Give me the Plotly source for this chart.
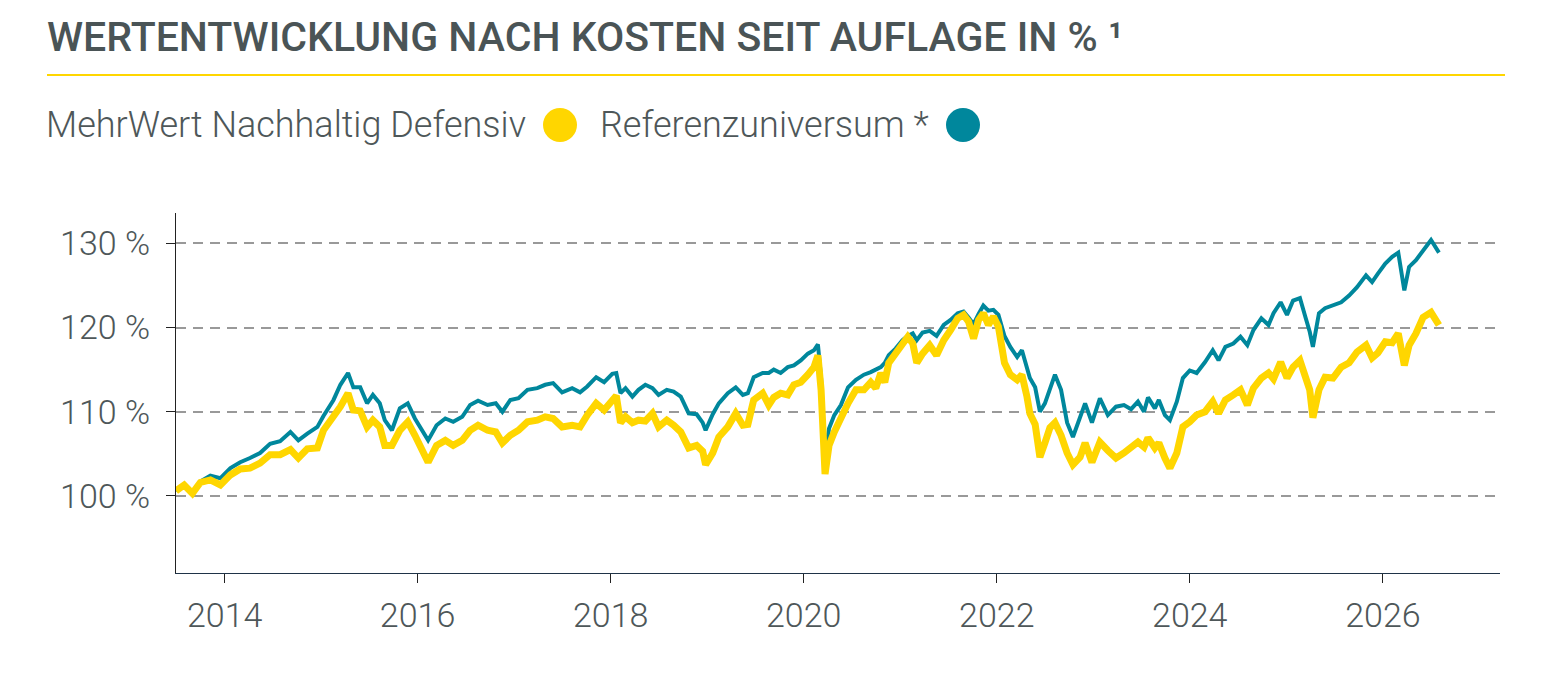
import plotly.graph_objects as go

# Daten (Wertentwicklung in %)
datum = [
    "2013-07-01", "2013-08-01", "2013-09-01", "2013-10-01", "2013-11-08", "2013-12-16",
    "2014-01-23", "2014-03-01", "2014-04-07", "2014-05-15", "2014-06-22", "2014-07-30", "2014-09-07", "2014-10-07", "2014-11-10", "2014-12-18",
    "2015-01-10", "2015-02-17", "2015-03-15", "2015-04-13", "2015-05-03", "2015-05-29", "2015-06-24", "2015-07-16", "2015-08-11", "2015-08-30", "2015-09-26", "2015-10-26", "2015-11-25", "2015-12-22",
    "2016-01-18", "2016-02-10", "2016-03-13", "2016-04-15", "2016-05-15", "2016-06-18", "2016-07-18", "2016-08-17", "2016-09-22", "2016-10-23", "2016-11-17", "2016-12-17",
    "2017-01-17", "2017-02-20", "2017-03-29", "2017-04-28", "2017-05-28", "2017-07-01", "2017-08-08", "2017-09-07", "2017-10-04", "2017-11-07", "2017-12-07",
    "2018-01-07", "2018-01-22", "2018-02-07", "2018-02-26", "2018-03-24", "2018-04-16", "2018-05-12", "2018-06-08", "2018-07-01", "2018-08-01", "2018-08-27", "2018-09-23", "2018-10-23", "2018-11-22", "2018-12-15", "2018-12-26",
    "2019-01-22", "2019-02-14", "2019-03-20", "2019-04-19", "2019-05-16", "2019-06-04", "2019-06-26", "2019-07-30", "2019-08-22", "2019-09-10", "2019-10-06", "2019-11-02", "2019-11-25", "2019-12-21",
    "2020-01-17", "2020-02-09", "2020-02-24", "2020-03-07", "2020-03-22", "2020-04-06", "2020-04-26", "2020-05-21", "2020-06-17", "2020-07-17", "2020-08-16", "2020-09-11", "2020-09-30", "2020-10-19", "2020-11-03", "2020-11-18", "2020-12-14",
    "2021-01-09", "2021-01-29", "2021-02-17", "2021-03-04", "2021-03-26", "2021-04-22", "2021-05-18", "2021-06-14", "2021-07-10", "2021-08-06", "2021-08-28", "2021-09-16", "2021-10-05", "2021-10-24", "2021-11-11", "2021-11-30", "2021-12-19",
    "2022-01-07", "2022-01-30", "2022-02-21", "2022-03-19", "2022-04-06", "2022-04-25", "2022-05-06", "2022-05-26", "2022-06-13", "2022-07-02", "2022-07-21", "2022-08-09", "2022-09-01", "2022-09-24", "2022-10-16", "2022-11-12", "2022-12-01", "2022-12-27",
    "2023-01-26", "2023-02-25", "2023-03-28", "2023-04-27", "2023-05-24", "2023-06-19", "2023-07-12", "2023-07-27", "2023-08-22", "2023-09-06", "2023-09-29", "2023-10-18", "2023-11-13", "2023-12-06",
    "2024-01-01", "2024-01-27", "2024-02-28", "2024-03-28", "2024-04-19", "2024-05-15", "2024-06-14", "2024-07-11", "2024-08-06", "2024-08-29", "2024-09-28", "2024-10-25", "2024-11-13", "2024-12-10",
    "2025-01-03", "2025-01-26", "2025-02-21", "2025-03-15", "2025-03-30", "2025-04-11", "2025-05-04", "2025-05-27", "2025-06-26", "2025-07-27", "2025-08-26", "2025-09-25", "2025-10-29", "2025-11-21", "2025-12-13",
    "2026-01-10", "2026-02-05", "2026-02-28", "2026-03-23", "2026-04-10", "2026-05-06", "2026-06-02", "2026-07-02", "2026-08-01",
]

mehrwert = [
    100.6, 101.3, 100.3, 101.6, 101.9, 101.3,
    102.5, 103.2, 103.3, 103.9, 104.9, 104.9, 105.5, 104.5, 105.6, 105.7,
    107.8, 109.4, 110.6, 112.2, 110.2, 110.1, 108.2, 109.0, 108.2, 106.0, 106.0, 107.8, 108.8, 107.2,
    105.5, 104.0, 106.0, 106.6, 106.0, 106.6, 107.8, 108.4, 107.8, 107.6, 106.3, 107.2,
    107.8, 108.8, 109.0, 109.4, 109.2, 108.2, 108.4, 108.2, 109.6, 111.0, 110.2,
    111.5, 111.9, 108.7, 109.4, 108.7, 109.0, 108.9, 109.8, 108.2, 109.0, 108.4, 107.6, 105.7, 106.0, 105.3, 103.7,
    105.1, 107.0, 108.2, 109.8, 108.4, 108.5, 111.4, 112.2, 110.8, 111.7, 112.2, 112.0, 113.2, 113.5,
    114.4, 115.3, 116.7, 112.6, 102.6, 106.0, 107.6, 109.3, 111.0, 112.6, 112.6, 113.5, 112.8, 114.6, 113.5, 115.8, 116.9,
    118.1, 118.9, 118.1, 115.8, 116.9, 117.9, 116.7, 118.5, 119.7, 121.1, 121.5, 120.7, 118.7, 120.9, 121.7, 120.3, 121.3,
    120.1, 115.8, 114.4, 113.8, 114.4, 111.8, 109.8, 108.5, 104.6, 106.3, 108.1, 108.7, 107.2, 105.1, 103.7, 104.6, 106.3, 104.0,
    106.4, 105.4, 104.5, 105.1, 105.8, 106.4, 105.8, 106.9, 105.7, 106.3, 104.5, 103.3, 105.1, 108.2,
    108.8, 109.6, 110.0, 111.2, 109.8, 111.4, 112.0, 112.6, 110.8, 112.8, 114.0, 114.6, 113.9, 115.9,
    114.0, 115.3, 116.1, 114.2, 112.6, 109.3, 112.6, 114.1, 114.0, 115.3, 115.8, 117.1, 117.9, 116.4, 117.0,
    118.3, 118.2, 119.3, 115.5, 117.9, 119.3, 121.2, 121.8, 120.3,
]

referenz = [
    100.6, 101.3, 100.4, 101.7, 102.4, 102.1,
    103.3, 104.0, 104.5, 105.1, 106.2, 106.5, 107.6, 106.6, 107.4, 108.2,
    109.5, 111.4, 113.2, 114.6, 112.9, 112.9, 111.0, 112.0, 111.0, 109.0, 107.8, 110.4, 111.0, 109.2,
    107.8, 106.6, 108.4, 109.2, 108.8, 109.4, 110.8, 111.3, 110.8, 111.0, 110.0, 111.4,
    111.6, 112.6, 112.8, 113.2, 113.4, 112.3, 112.8, 112.3, 113.0, 114.1, 113.5,
    114.5, 114.6, 112.2, 112.8, 111.8, 112.6, 113.2, 112.8, 112.0, 112.6, 112.4, 111.8, 109.8, 109.7, 108.7, 107.8,
    109.7, 111.0, 112.2, 112.9, 112.0, 112.2, 114.1, 114.6, 114.6, 115.0, 114.6, 115.3, 115.5, 116.1,
    116.9, 117.3, 118.0, 114.0, 104.5, 108.0, 109.6, 110.8, 112.9, 113.8, 114.4, 114.7, 115.0, 115.3, 115.8, 116.7, 117.5,
    118.5, 119.0, 119.3, 118.5, 119.4, 119.6, 119.0, 120.3, 120.9, 121.7, 121.9, 121.2, 120.4, 121.6, 122.6, 122.0, 122.1,
    121.5, 119.0, 117.7, 116.5, 117.3, 115.3, 114.0, 112.9, 110.0, 111.0, 112.6, 114.4, 112.6, 108.7, 107.0, 109.4, 111.0, 108.7,
    111.6, 109.6, 110.6, 110.8, 110.3, 111.2, 110.0, 111.7, 110.4, 111.4, 109.6, 109.0, 111.2, 114.0,
    114.9, 114.6, 115.9, 117.3, 116.1, 117.7, 118.1, 118.9, 117.9, 119.7, 121.1, 120.3, 121.7, 123.0,
    121.5, 123.2, 123.5, 121.1, 119.5, 117.7, 121.7, 122.3, 122.6, 123.0, 123.8, 124.8, 126.2, 125.4, 126.4,
    127.6, 128.4, 128.9, 124.4, 127.2, 128.0, 129.2, 130.4, 128.9,
]

jahre = ["2014-01-01", "2016-01-01", "2018-01-01", "2020-01-01", "2022-01-01", "2024-01-01", "2026-01-01"]
jahr_labels = ["2014", "2016", "2018", "2020", "2022", "2024", "2026"]
y_ticks = [100, 110, 120, 130]
y_labels = ["100 %", "110 %", "120 %", "130 %"]

name_fonds = "MehrWert Nachhaltig Defensiv"
name_ref = "Referenzuniversum *"
titel = "WERTENTWICKLUNG NACH KOSTEN SEIT AUFLAGE IN % ¹"

gelb = "#FFD600"
petrol = "#00879C"
textfarbe = "#4e5759"

W, H = 1560, 680
L, R, T, B = 176, 60, 213, 107


# pixel -> paper koordinaten
def px(x):
    return (x - L) / (W - L - R)


def py(y):
    return (H - B - y) / (H - T - B)


fig = go.Figure()
fig.add_trace(go.Scatter(x=datum, y=referenz, name=name_ref, mode="lines",
                         line=dict(color=petrol, width=4), hoverinfo="skip"))
fig.add_trace(go.Scatter(x=datum, y=mehrwert, name=name_fonds, mode="lines",
                         line=dict(color=gelb, width=7), hoverinfo="skip"))

tickfont = dict(family="Roboto", size=34, color=textfarbe, weight=300)

fig.update_layout(
    width=W, height=H,
    margin=dict(l=L, r=R, t=T, b=B),
    paper_bgcolor="white", plot_bgcolor="white",
    showlegend=False,
    xaxis=dict(type="date", range=["2013-07-01", "2027-03-20"],
               tickvals=jahre, ticktext=jahr_labels, tickfont=tickfont,
               ticks="outside", ticklen=9, tickcolor="#222", tickwidth=1.2,
               showline=True, linecolor="#1f3347", linewidth=1.2,
               showgrid=False, zeroline=False, ticklabelstandoff=3),
    yaxis=dict(range=[90.85, 133.6], tickvals=y_ticks, ticktext=y_labels,
               tickfont=tickfont, ticks="outside", ticklen=9, tickcolor="#222",
               tickwidth=1.2, showline=True, linecolor="#222", linewidth=1.2,
               showgrid=True, gridcolor="#999999", gridwidth=2,
               griddash="10px,7px", zeroline=False, ticklabelstandoff=9),
)

# Titel + gelbe Linie
fig.add_annotation(x=px(45), y=py(37), xref="paper", yref="paper",
                   xanchor="left", yanchor="middle", showarrow=False,
                   text=titel,
                   font=dict(family="Roboto", size=41, color="#4a5456", weight=500))
fig.add_shape(type="line", xref="paper", yref="paper",
              x0=px(47), x1=px(1505), y0=py(75), y1=py(75),
              line=dict(color=gelb, width=2))

# Legende (Text mit Kreis rechts daneben)
legfont = dict(family="Roboto", size=36, color=textfarbe, weight=300)
fig.add_annotation(x=px(44), y=py(125), xref="paper", yref="paper",
                   xanchor="left", yanchor="middle", showarrow=False,
                   text=name_fonds, font=legfont)
fig.add_annotation(x=px(598), y=py(125), xref="paper", yref="paper",
                   xanchor="left", yanchor="middle", showarrow=False,
                   text=name_ref, font=legfont)
for cx, farbe in [(560, gelb), (963, petrol)]:
    fig.add_shape(type="circle", xref="paper", yref="paper",
                  x0=px(cx - 17), x1=px(cx + 17), y0=py(125 + 17), y1=py(125 - 17),
                  fillcolor=farbe, line=dict(width=0))

fig.write_html("out.html", config={"displayModeBar": False},
               post_script="document.body.style.margin='0';")
